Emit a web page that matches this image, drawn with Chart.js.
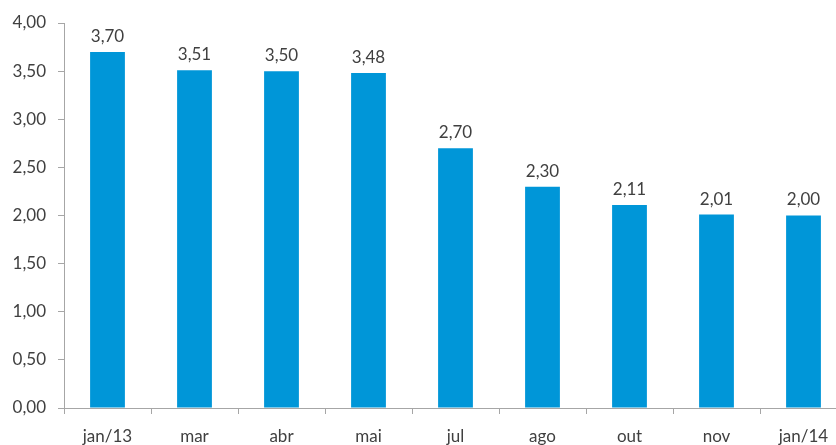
<!DOCTYPE html>
<html>
<head>
<meta charset="utf-8">
<script src="https://cdn.jsdelivr.net/npm/chart.js@4/dist/chart.umd.min.js"></script>
<style>
  html, body { margin: 0; padding: 0; overflow: hidden; background: #fff; }
  #wrap { width: 850px; height: 445px; }
</style>
</head>
<body>
<div id="wrap"><canvas id="chart"></canvas></div>
<script>
// dados
const categorias = ["jan/13", "mar", "abr", "mai", "jul", "ago", "out", "nov", "jan/14"];
const valores = [3.70, 3.51, 3.50, 3.48, 2.70, 2.30, 2.11, 2.01, 2.00];
const yMin = 0, yMax = 4, yStep = 0.5;

const fonte = "Lato, 'Open Sans', sans-serif";
const corTexto = "#404040";
const fmt = v => v.toFixed(2).replace(".", ",");

// rotulos em cima das barras
const rotulos = {
  id: "rotulos",
  afterDatasetsDraw(chart) {
    const ctx = chart.ctx;
    const meta = chart.getDatasetMeta(0);
    ctx.save();
    ctx.font = "17px " + fonte;
    ctx.fillStyle = corTexto;
    ctx.textAlign = "center";
    ctx.textBaseline = "bottom";
    meta.data.forEach((bar, i) => {
      ctx.fillText(fmt(valores[i]), bar.x, bar.y - 7);
    });
    ctx.restore();
  }
};

new Chart(document.getElementById("chart"), {
  type: "bar",
  data: {
    labels: categorias,
    datasets: [{
      data: valores,
      backgroundColor: "#0096d8",
      borderWidth: 0,
      barPercentage: 0.8,
      categoryPercentage: 0.5
    }]
  },
  options: {
    responsive: true,
    maintainAspectRatio: false,
    animation: false,
    layout: { padding: { top: 23, right: 3, left: 0, bottom: 0 } },
    plugins: { legend: { display: false }, tooltip: { enabled: false } },
    scales: {
      x: {
        offset: true,
        grid: { offset: true, drawOnChartArea: false, tickLength: 6, color: "#a6a6a6" },
        border: { color: "#a6a6a6", width: 1 },
        ticks: { color: corTexto, font: { family: fonte, size: 17 }, padding: 12, maxRotation: 0, autoSkip: false },
        afterFit(s) { s.height = 37; }
      },
      y: {
        min: yMin, max: yMax,
        grid: { drawOnChartArea: false, tickLength: 6, color: "#a6a6a6" },
        border: { color: "#a6a6a6", width: 1 },
        ticks: { stepSize: yStep, color: corTexto, font: { family: fonte, size: 17 }, padding: 12, callback: v => fmt(v) },
        afterFit(s) { s.width = 64; }
      }
    }
  },
  plugins: [rotulos]
});
</script>
</body>
</html>
